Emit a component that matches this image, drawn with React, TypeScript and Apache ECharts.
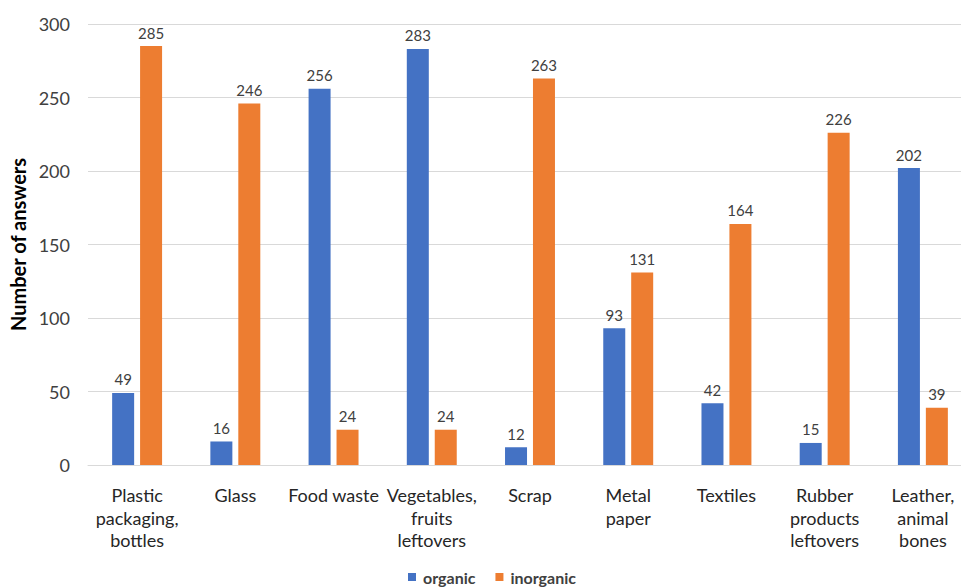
import React, { useEffect, useRef } from "react";
import * as echarts from "echarts";

const categories = [
  "Plastic\npackaging,\nbottles",
  "Glass",
  "Food waste",
  "Vegetables,\nfruits\nleftovers",
  "Scrap",
  "Metal\npaper",
  "Textiles",
  "Rubber\nproducts\nleftovers",
  "Leather,\nanimal\nbones",
];
const organic = [49, 16, 256, 283, 12, 93, 42, 15, 202];
const inorganic = [285, 246, 24, 24, 263, 131, 164, 226, 39];

const FONT = "Lato, 'Noto Sans', sans-serif";

export default function App() {
  const ref = useRef<HTMLDivElement>(null);

  useEffect(() => {
    if (!ref.current) return;
    const chart = echarts.init(ref.current, undefined, { renderer: "svg" });
    const valueLabel = {
      show: true,
      position: "top" as const,
      distance: 6,
      color: "#404040",
      fontSize: 15,
      fontFamily: FONT,
    };
    chart.setOption({
      animation: false,
      backgroundColor: "#ffffff",
      textStyle: { fontFamily: FONT },
      // the plot runs slightly past the right edge of the canvas
      grid: { left: 88, top: 24, width: 884, height: 441, outerBoundsMode: "none" },
      legend: {
        top: 569,
        left: 408,
        padding: 0,
        itemWidth: 8,
        itemHeight: 8,
        itemGap: 20,
        icon: "rect",
        textStyle: { fontSize: 16, fontWeight: "bold", color: "#404040", fontFamily: FONT, padding: [0, 0, 0, 2] },
        data: ["organic", "inorganic"],
      },
      xAxis: {
        type: "category",
        data: categories,
        axisLine: { lineStyle: { color: "#d9d9d9", width: 1 } },
        axisTick: { show: false },
        axisLabel: {
          interval: 0,
          margin: 19,
          fontSize: 18,
          lineHeight: 22.5,
          color: "#262626",
          fontFamily: FONT,
        },
      },
      yAxis: {
        type: "value",
        min: 0,
        max: 300,
        interval: 50,
        name: "Number of answers",
        nameLocation: "middle",
        nameGap: 58,
        nameTextStyle: { fontSize: 20, fontWeight: "bold", color: "#000000", fontFamily: FONT },
        axisLine: { show: false },
        axisTick: { show: false },
        axisLabel: { fontSize: 18, color: "#404040", margin: 18, fontFamily: FONT },
        splitLine: { lineStyle: { color: "#d9d9d9", width: 1 } },
      },
      series: [
        {
          name: "organic",
          type: "bar",
          data: organic,
          barWidth: 22,
          barGap: "27%",
          itemStyle: { color: "#4472C4" },
          label: valueLabel,
        },
        {
          name: "inorganic",
          type: "bar",
          data: inorganic,
          barWidth: 22,
          barGap: "27%",
          itemStyle: { color: "#ED7D31" },
          label: valueLabel,
        },
      ],
    });
    return () => chart.dispose();
  }, []);

  return (
    <div
      ref={ref}
      style={{ position: "fixed", left: 0, top: 0, width: 961, height: 587, overflow: "hidden" }}
    />
  );
}
